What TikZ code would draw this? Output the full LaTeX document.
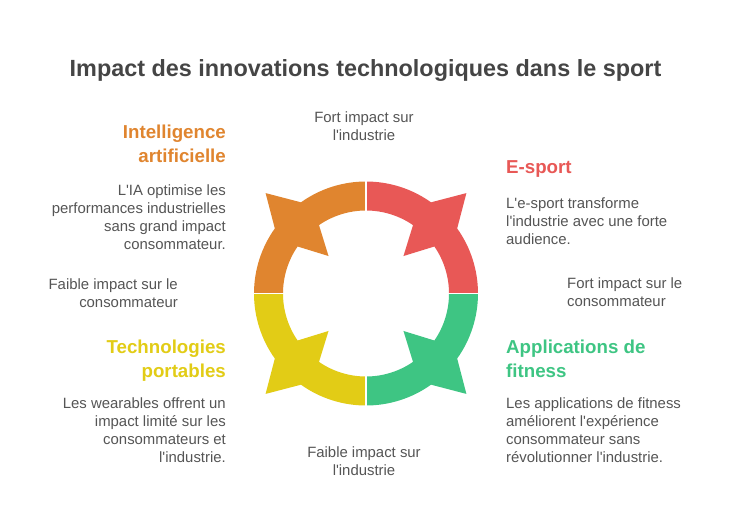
\documentclass[tikz,border=0pt]{standalone}
\usepackage{fontspec}
\setmainfont{Liberation Sans}
\newcommand{\ap}{\textquotesingle}

\definecolor{aiorange}{HTML}{E0852F}
\definecolor{esred}{HTML}{E85856}
\definecolor{fitgreen}{HTML}{3EC583}
\definecolor{wearyellow}{HTML}{E2CC16}
\definecolor{titlegray}{HTML}{454545}
\definecolor{bodygray}{HTML}{555555}

\tikzset{
    maintitle/.style={font=\fontsize{23.4}{28}\selectfont\bfseries, text=titlegray, inner sep=0, anchor=base},
    heading/.style={font=\fontsize{18.7}{24}\selectfont\bfseries, inner sep=0},
    body/.style={font=\fontsize{14.9}{18}\selectfont, text=bodygray, inner sep=0},
}

\begin{document}
\begin{tikzpicture}[x=1pt,y=1pt]
    \useasboundingbox[fill=white] (0,0) rectangle (732,-528);
    \node[maintitle] (title) at (365.5,-76.5) {Impact des innovations technologiques dans le sport};

    % ring of four quarters
    \begin{scope}[shift={(366,-293.5)}]
        \foreach \a/\col in {0/esred,90/aiorange,180/wearyellow,270/fitgreen} {
            \pgfmathsetmacro{\m}{\a+45}
            \pgfmathsetmacro{\b}{\a+90}
            \fill[\col] (\a:83) -- (\a:112)
                arc[start angle=\a, end angle=\m-9.5, radius=112] -- (\m:142) -- ({\m+9.5}:112)
                arc[start angle=\m+9.5, end angle=\b, radius=112] -- (\b:83)
                arc[start angle=\b, end angle=\m+10.5, radius=83] -- (\m:53) -- ({\m-10.5}:83)
                arc[start angle=\m-10.5, end angle=\a, radius=83] -- cycle;
          }
        \foreach \a in {0,90,180,270}
            \draw[white, line width=1.5pt] (\a:78) -- (\a:116);
    \end{scope}

    % quadrant texts (base = last line)
    \node[heading, text=aiorange, anchor=base east, align=right] (ai) at (226,-162) {Intelligence\\artificielle};
    \node[body, anchor=base east, align=right] (aitext) at (226,-249) {L\ap IA optimise les\\performances industrielles\\sans grand impact\\consommateur.};
    \node[heading, text=esred, anchor=base west, align=left] (es) at (506,-173) {E-sport};
    \node[body, anchor=base west, align=left] (estext) at (506,-244) {L\ap e-sport transforme\\l\ap industrie avec une forte\\audience.};
    \node[heading, text=wearyellow, anchor=base east, align=right] (wear) at (226,-377) {Technologies\\portables};
    \node[body, anchor=base east, align=right] (weartext) at (226,-462) {Les wearables offrent un\\impact limité sur les\\consommateurs et\\l\ap industrie.};
    \node[heading, text=fitgreen, anchor=base west, align=left] (fit) at (506,-377) {Applications de\\fitness};
    \node[body, anchor=base west, align=left] (fittext) at (506,-462) {Les applications de fitness\\améliorent l\ap expérience\\consommateur sans\\révolutionner l\ap industrie.};

    % axis labels
    \node[body, anchor=base, align=center] (topind) at (364,-140) {Fort impact sur\\l\ap industrie};
    \node[body, anchor=base, align=center] (botind) at (364,-475) {Faible impact sur\\l\ap industrie};
    \node[body, anchor=base east, align=right] (leftcons) at (178,-307) {Faible impact sur le\\consommateur};
    \node[body, anchor=base west, align=left] (rightcons) at (567,-306) {Fort impact sur le\\consommateur};
  \end{tikzpicture}
\end{document}
